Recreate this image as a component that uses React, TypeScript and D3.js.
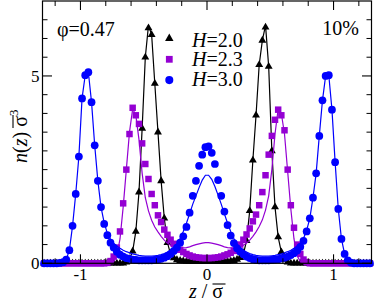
import React from 'react';
import * as d3 from 'd3';

// z / sigma bin centres (shared by every series)
const zGrid = [
  -1.2875, -1.2625, -1.2375, -1.2125, -1.1875, -1.1625, -1.1375, -1.1125, -1.0875, -1.0625,
  -1.0375, -1.0125, -0.9875, -0.9625, -0.9375, -0.9125, -0.8875, -0.8625, -0.8375, -0.8125,
  -0.7875, -0.7625, -0.7375, -0.7125, -0.6875, -0.6625, -0.6375, -0.6125, -0.5875, -0.5625,
  -0.5375, -0.5125, -0.4875, -0.4625, -0.4375, -0.4125, -0.3875, -0.3625, -0.3375, -0.3125,
  -0.2875, -0.2625, -0.2375, -0.2125, -0.1875, -0.1625, -0.1375, -0.1125, -0.0875, -0.0625,
  -0.0375, -0.0125,
  0.0125, 0.0375, 0.0625, 0.0875, 0.1125, 0.1375, 0.1625, 0.1875, 0.2125, 0.2375,
  0.2625, 0.2875, 0.3125, 0.3375, 0.3625, 0.3875, 0.4125, 0.4375, 0.4625, 0.4875,
  0.5125, 0.5375, 0.5625, 0.5875, 0.6125, 0.6375, 0.6625, 0.6875, 0.7125, 0.7375,
  0.7625, 0.7875, 0.8125, 0.8375, 0.8625, 0.8875, 0.9125, 0.9375, 0.9625, 0.9875,
  1.0125, 1.0375, 1.0625, 1.0875, 1.1125, 1.1375, 1.1625, 1.1875, 1.2125, 1.2375,
  1.2625, 1.2875,
];

// H = 2.0 (black triangles + line)
const h20Points = [
  0, 0, 0, 0, 0, 0, 0, 0, 0, 0, 0, 0, 0, 0, 0, 0, 0, 0, 0, 0, 0, 0, 0, 0, 0, 0,
  0.03, 0.12, 0.32, 0.85, 1.9, 3.6, 5.5, 6.28, 6.1, 4.8, 3.5, 2.2, 1.2, 0.55, 0.26, 0.14,
  0.09, 0.07, 0.06, 0.05, 0.05, 0.04, 0.04, 0.04, 0.04, 0.04,
  0.04, 0.04, 0.04, 0.04, 0.04, 0.05, 0.05, 0.06, 0.07, 0.1, 0.15, 0.28, 0.6, 1.4, 2.75, 3.95,
  5.3, 5.95, 6.3, 5.25, 3.0, 1.5, 0.7, 0.3, 0.1, 0.03,
  0, 0, 0, 0, 0, 0, 0, 0, 0, 0, 0, 0, 0, 0, 0, 0, 0, 0, 0, 0, 0, 0, 0, 0, 0, 0,
];
const h20Line = [
  0, 0, 0, 0, 0, 0, 0, 0, 0, 0, 0, 0, 0, 0, 0, 0, 0, 0, 0, 0, 0, 0, 0, 0, 0, 0,
  0.03, 0.12, 0.32, 0.85, 1.9, 3.6, 5.5, 6.35, 6.1, 4.8, 3.5, 2.2, 1.2, 0.55, 0.24, 0.11,
  0.06, 0.04, 0.03, 0.02, 0.02, 0.01, 0.01, 0.01, 0.01, 0.01,
  0.01, 0.01, 0.01, 0.01, 0.01, 0.02, 0.02, 0.03, 0.04, 0.06, 0.11, 0.25, 0.6, 1.4, 2.75, 3.95,
  5.3, 5.95, 6.35, 5.25, 3.0, 1.5, 0.7, 0.3, 0.1, 0.03,
  0, 0, 0, 0, 0, 0, 0, 0, 0, 0, 0, 0, 0, 0, 0, 0, 0, 0, 0, 0, 0, 0, 0, 0, 0, 0,
];

// H = 2.3 (violet squares + line)
const h23Points = [
  0, 0, 0, 0, 0, 0, 0, 0, 0, 0, 0, 0, 0, 0, 0, 0, 0, 0, 0, 0,
  0.01, 0.06, 0.18, 0.42, 0.85, 1.6, 2.5, 3.45, 4.15, 3.95, 3.72, 3.2, 2.65, 2.25, 1.85, 1.55,
  1.28, 1.1, 0.9, 0.76, 0.63, 0.52, 0.43, 0.36, 0.3, 0.25, 0.21, 0.18, 0.16, 0.15, 0.14, 0.14,
  0.14, 0.14, 0.15, 0.16, 0.18, 0.21, 0.24, 0.28, 0.33, 0.4, 0.5, 0.63, 0.77, 0.93, 1.12, 1.3,
  1.55, 1.9, 2.35, 2.9, 3.4, 3.83, 4.1, 3.95, 3.55, 2.5, 1.55, 0.95, 0.5, 0.25, 0.1, 0.03,
  0, 0, 0, 0, 0, 0, 0, 0, 0, 0, 0, 0, 0, 0, 0, 0, 0, 0, 0, 0,
];
const h23Line = [
  0, 0, 0, 0, 0, 0, 0, 0, 0, 0, 0, 0, 0, 0, 0, 0, 0, 0, 0, 0, 0,
  0.01, 0.05, 0.2, 0.65, 1.5, 2.5, 3.5, 4.12, 3.95, 3.3, 2.4, 1.75, 1.4, 1.15, 0.97, 0.84,
  0.72, 0.62, 0.54, 0.48, 0.44, 0.42, 0.41, 0.41, 0.42, 0.44, 0.47, 0.5, 0.52, 0.54, 0.55,
  0.55, 0.54, 0.52, 0.5, 0.47, 0.44, 0.42, 0.41, 0.41, 0.42, 0.44, 0.48, 0.54, 0.62, 0.72,
  0.84, 0.98, 1.16, 1.42, 1.8, 2.5, 3.45, 4.12, 4.0, 3.45, 2.45, 1.45, 0.65, 0.2, 0.05, 0.01,
  0, 0, 0, 0, 0, 0, 0, 0, 0, 0, 0, 0, 0, 0, 0, 0, 0, 0, 0, 0, 0,
];

// H = 3.0 (blue circles + line)
const h30Points = [
  0, 0, 0, 0, 0, 0.01, 0.03, 0.1, 0.35, 1.0, 1.85, 2.85, 4.4, 5.02, 5.1, 4.3, 3.15, 2.2, 1.5, 1.05,
  0.75, 0.55, 0.42, 0.31, 0.23, 0.18, 0.14, 0.12, 0.1, 0.09, 0.08, 0.08, 0.08, 0.08, 0.08, 0.09,
  0.1, 0.12, 0.15, 0.19, 0.25, 0.33, 0.42, 0.55, 0.72, 0.97, 1.35, 1.8, 2.2, 2.6, 2.9, 3.1,
  3.12, 2.95, 2.65, 2.22, 1.8, 1.38, 1.02, 0.74, 0.54, 0.4, 0.31, 0.24, 0.18, 0.14, 0.11, 0.09,
  0.08, 0.08, 0.08, 0.08, 0.09, 0.1, 0.11, 0.13, 0.15, 0.18, 0.22, 0.27, 0.34, 0.44, 0.6, 0.85,
  1.2, 1.75, 2.4, 3.4, 4.35, 5.0, 5.02, 4.1, 2.7, 1.45, 0.65, 0.25, 0.08, 0.02, 0, 0, 0, 0, 0, 0,
];
const h30Line = [
  0, 0, 0, 0, 0, 0.01, 0.03, 0.1, 0.35, 1.0, 1.85, 2.85, 4.4, 5.02, 5.1, 4.3, 3.15, 2.2, 1.5, 1.08,
  0.8, 0.64, 0.54, 0.46, 0.4, 0.35, 0.31, 0.28, 0.25, 0.23, 0.21, 0.2, 0.19, 0.19, 0.19, 0.2,
  0.21, 0.23, 0.26, 0.3, 0.35, 0.42, 0.52, 0.66, 0.85, 1.07, 1.32, 1.58, 1.8, 2.02, 2.22, 2.35,
  2.35, 2.24, 2.05, 1.82, 1.58, 1.32, 1.07, 0.85, 0.66, 0.52, 0.42, 0.35, 0.3, 0.26, 0.23, 0.21,
  0.2, 0.19, 0.19, 0.19, 0.2, 0.21, 0.23, 0.25, 0.28, 0.31, 0.35, 0.4, 0.46, 0.54, 0.66, 0.88,
  1.2, 1.75, 2.4, 3.4, 4.35, 5.0, 5.02, 4.1, 2.7, 1.45, 0.65, 0.25, 0.08, 0.02, 0, 0, 0, 0, 0, 0,
];

const legendLabels = ['2.0', '2.3', '3.0'];
const xMajor = [-1, 0, 1];
const xMinor = [-1.2, -0.8, -0.6, -0.4, -0.2, 0.2, 0.4, 0.6, 0.8, 1.2];
const yMajor = [0, 5];
const yMinor = [0.5, 1, 1.5, 2, 2.5, 3, 3.5, 4, 4.5, 5.5, 6, 6.5];

const FONT = "'Liberation Serif', serif";

const App: React.FC = () => {
  const width = 374;
  const height = 300;
  const left = 42.5;
  const right = 371.5;
  const top = 1;
  const bottom = 263.3;

  const x = d3.scaleLinear().domain([-1.3, 1.3]).range([left, right]);
  const y = d3.scaleLinear().domain([0, 7]).range([bottom, top]);

  const series = [
    { color: '#000000', pts: h20Points, line: h20Line, symbol: d3.symbolTriangle, size: 27 },
    { color: '#9400d3', pts: h23Points, line: h23Line, symbol: d3.symbolSquare, size: 42 },
    { color: '#0000ff', pts: h30Points, line: h30Line, symbol: d3.symbolCircle, size: 47 },
  ];

  const lineGen = d3
    .line<number>()
    .x((_, i) => x(zGrid[i]))
    .y((d) => y(d));

  const txt = { fontFamily: FONT };

  return (
    <svg
      width={width}
      height={height}
      style={{ position: 'absolute', left: 0, top: 0, background: '#fff', fontFamily: FONT }}
    >
      {/* data */}
      {series.map((s, si) => {
        const sym = d3.symbol().type(s.symbol).size(s.size)() || '';
        return (
          <g key={si}>
            <path d={lineGen(s.line) || ''} fill="none" stroke={s.color} strokeWidth={1.2} />
            {s.pts.map((v, i) => (
              <path
                key={i}
                d={sym}
                transform={`translate(${x(zGrid[i])},${y(v)})`}
                fill={s.color}
              />
            ))}
          </g>
        );
      })}

      {/* frame */}
      <rect
        x={left}
        y={top}
        width={right - left}
        height={bottom - top}
        fill="none"
        stroke="#000"
        strokeWidth={1.2}
      />

      {/* x ticks, inward on both sides */}
      {xMajor.map((t) => (
        <g key={`xM${t}`}>
          <line x1={x(t)} x2={x(t)} y1={bottom} y2={bottom - 9} stroke="#000" strokeWidth={1.1} />
          <line x1={x(t)} x2={x(t)} y1={top} y2={top + 9} stroke="#000" strokeWidth={1.1} />
          <text x={x(t)} y={279.5} fontSize={17} textAnchor="middle" style={txt}>
            {t}
          </text>
        </g>
      ))}
      {xMinor.map((t) => (
        <g key={`xm${t}`}>
          <line x1={x(t)} x2={x(t)} y1={bottom} y2={bottom - 5} stroke="#000" strokeWidth={1} />
          <line x1={x(t)} x2={x(t)} y1={top} y2={top + 5} stroke="#000" strokeWidth={1} />
        </g>
      ))}

      {/* y ticks */}
      {yMajor.map((t) => (
        <g key={`yM${t}`}>
          <line x1={left} x2={left + 9.5} y1={y(t)} y2={y(t)} stroke="#000" strokeWidth={1.1} />
          <line x1={right} x2={right - 9.5} y1={y(t)} y2={y(t)} stroke="#000" strokeWidth={1.1} />
          <text x={39.5} y={y(t) + 6} fontSize={17} textAnchor="end" style={txt}>
            {t}
          </text>
        </g>
      ))}
      {yMinor.map((t) => (
        <g key={`ym${t}`}>
          <line x1={left} x2={left + 5} y1={y(t)} y2={y(t)} stroke="#000" strokeWidth={1} />
          <line x1={right} x2={right - 5} y1={y(t)} y2={y(t)} stroke="#000" strokeWidth={1} />
        </g>
      ))}

      {/* axis titles */}
      <text x={189} y={297.5} fontSize={20} style={txt}>
        <tspan fontStyle="italic">z</tspan> / σ
      </text>
      <line x1={212.5} x2={225.5} y1={284} y2={284} stroke="#000" strokeWidth={1.1} />

      <g transform="translate(27,163) rotate(-90)">
        <text x={0} y={0} fontSize={20} style={txt}>
          <tspan fontStyle="italic">n</tspan>(<tspan fontStyle="italic">z</tspan>) σ
          <tspan dy={-9} fontSize={13}>
            3
          </tspan>
        </text>
        <line x1={35} x2={48} y1={-14} y2={-14} stroke="#000" strokeWidth={1.1} />
      </g>

      {/* annotations */}
      <text x={57} y={36} fontSize={20} style={txt}>
        φ=0.47
      </text>
      <text x={359} y={35} fontSize={20} textAnchor="end" style={txt}>
        10%
      </text>

      {/* legend */}
      {series.map((s, i) => (
        <g key={`lg${i}`}>
          <path
            d={d3.symbol().type(s.symbol).size(s.size + 4)() || ''}
            transform={`translate(169.3,${38.5 + i * 20.8})`}
            fill={s.color}
          />
          <text x={192} y={46.7 + i * 19.7} fontSize={20} style={txt}>
            <tspan fontStyle="italic">H</tspan>={legendLabels[i]}
          </text>
        </g>
      ))}
    </svg>
  );
};

export default App;
